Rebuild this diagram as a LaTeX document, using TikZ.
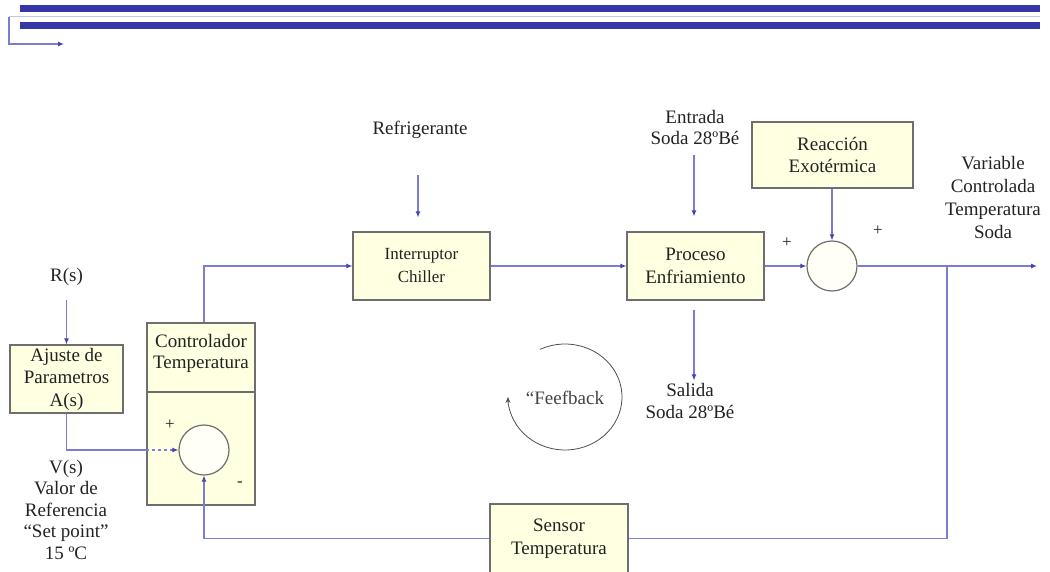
\documentclass[tikz,border=0pt]{standalone}
\usepackage{fontspec}
\setmainfont{Liberation Serif}
\usetikzlibrary{arrows.meta}

\definecolor{wire}{HTML}{7C7CD2}
\definecolor{tipc}{HTML}{4646B0}
\definecolor{boxfill}{HTML}{FFFFE2}
\definecolor{boxline}{HTML}{6E6E6E}
\definecolor{ink}{HTML}{222222}
\definecolor{barblue}{HTML}{3636A8}

\tikzset{
  blk/.style={draw=boxline, line width=1.2pt, fill=boxfill, align=center,
    inner sep=0pt, text=ink, font=\fontsize{19}{22.5}\selectfont},
  sumc/.style={circle, draw=boxline, line width=1.2pt, fill=boxfill!35,
    minimum size=50pt, inner sep=0pt},
  wireline/.style={draw=wire, line width=1.1pt},
  arr/.style={wireline, -{Latex[length=6pt,width=5pt,color=tipc]}},
  lbl/.style={align=center, text=ink, inner sep=0pt,
    font=\fontsize{19}{21.5}\selectfont},
  sgn/.style={text=ink, inner sep=0pt, font=\fontsize{17}{17}\selectfont}
}

\begin{document}
\begin{tikzpicture}[x=1pt,y=-1pt]
\useasboundingbox (0,0) rectangle (1050,571);
\clip (0,0) rectangle (1050,571);

% header rules
\fill[barblue] (20,5) rectangle (1040,12);
\fill[barblue] (20,22) rectangle (1040,29);
\draw[wire!45, line width=1.4pt] (9,16.5) -- (1040,16.5);
\coordinate (hd0) at (9,16.5);
\coordinate (hd1) at (64,44);
\draw[arr] (hd0) |- (hd1);

% blocks
\node[blk, minimum width=113pt, minimum height=68pt] (ajuste) at (66.5,379)
  {Ajuste de\\Parametros\\A(s)};
\node[blk, minimum width=108pt, minimum height=182pt] (ctrl) at (201,414) {};
\draw[boxline, line width=1.2pt] (ctrl.west |- 0,392) -- (ctrl.east |- 0,392);
\node[lbl] (ctrltxt) at (201,353.5) {Controlador\\Temperatura};
\node[sumc] (sum1) at (204,450) {};

\node[blk, minimum width=137pt, minimum height=68pt,
  font=\fontsize{17}{23}\selectfont] (interr) at (421.5,266) {Interruptor\\Chiller};
\node[blk, minimum width=137pt, minimum height=68pt] (proc) at (695.5,266)
  {Proceso\\Enfriamiento};
\node[blk, minimum width=161pt, minimum height=66pt] (reac) at (832.5,155)
  {Reacción\\Exotérmica};
\node[sumc] (sum2) at (832,266) {};
\node[blk, minimum width=138pt, minimum height=69pt] (sensor) at (559,538.5)
  {Sensor\\Temperatura};

% labels
\node[lbl] (rs) at (66.5,277) {R(s)};
\node[lbl] (vs) at (66,509.5) {V(s)\\Valor de\\Referencia\\“Set point”\\15 ºC};
\node[lbl] (refr) at (420,130) {Refrigerante};
\node[lbl] (entr) at (695,127.5) {Entrada\\Soda 28ºBé};
\node[lbl] (sal) at (690,401) {Salida\\Soda 28ºBé};
\node[lbl, font=\fontsize{19}{23}\selectfont] (var) at (993,197.5)
  {Variable\\Controlada\\Temperatura\\Soda};
\node[sgn] (p1) at (170,425) {+};
\node[sgn] (m1) at (240,484) {-};
\node[sgn] (p2) at (787,243) {+};
\node[sgn] (p3) at (878,231) {+};

% feedback loop annotation
\node[lbl, text=ink!85] (fb) at (565,398) {“Feefback};
\coordinate (fbc) at (565,397);
\draw[ink!80, line width=0.8pt, -{Stealth[length=6pt,width=5pt]}]
  (fbc) ++(-116:57 and 53) arc[start angle=-116, end angle=180,
  x radius=57, y radius=53];

% connectors
\draw[arr] (rs.south) ++(0,14) -- (ajuste.north);
\draw[wireline] (ajuste.south) |- (ctrl.west |- sum1);
\draw[arr, dashed] (ctrl.west |- sum1) -- (sum1.west);
\draw[arr] (sum1 |- ctrl.north) |- (interr.west);

\coordinate (refrtop) at (418,175);
\draw[arr, shorten >=14pt] (refrtop) -- (refrtop |- interr.north);
\draw[arr] (interr.east) -- (proc.west);

\coordinate (entrtop) at (694,155);
\draw[arr, shorten >=15pt] (entrtop) -- (entrtop |- proc.north);
\coordinate (saltop) at (694,300);
\draw[arr, shorten <=10pt, shorten >=3pt] (saltop) -- (saltop |- sal.north);

\draw[arr] (proc.east) -- (sum2.west);
\draw[arr] (reac.south -| sum2) -- (sum2.north);

\coordinate (out) at (1037,266);
\coordinate (br) at (947,266);
\draw[arr] (sum2.east) -- (out);
\draw[wireline] (br) |- (sensor.east);
\draw[arr] (sensor.west) -| (sum1.south);
\end{tikzpicture}
\end{document}
